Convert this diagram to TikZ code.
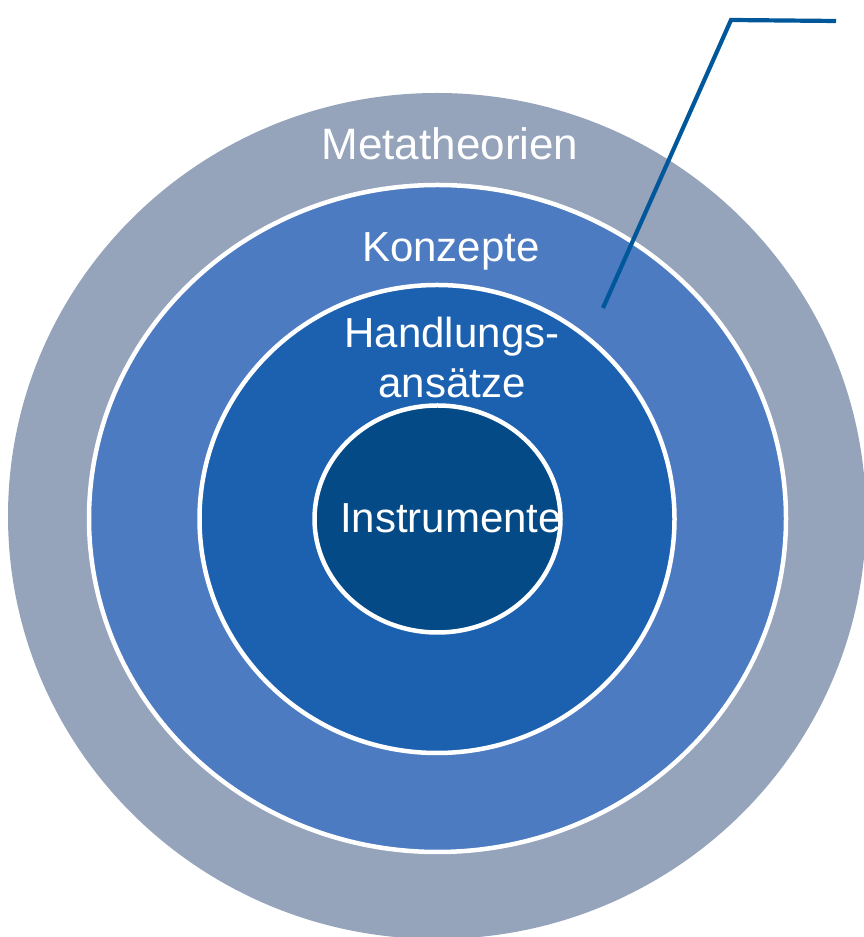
\documentclass[tikz,border=0pt]{standalone}
\usepackage{fontspec}
\setmainfont{Liberation Sans}
\usetikzlibrary{shapes.geometric}
\definecolor{outerc}{HTML}{95A3BB}
\definecolor{konzc}{HTML}{4C7BC1}
\definecolor{handc}{HTML}{1C61B0}
\definecolor{instc}{HTML}{044A87}
\definecolor{linec}{HTML}{00579A}
\tikzset{
  ring/.style={ellipse, inner sep=0pt, draw=white, line width=4.5pt},
  lbl/.style={text=white, font=\fontsize{42}{50}\selectfont, anchor=base, inner sep=0pt, align=center},
  leader/.style={draw=linec, line width=4.2pt}
}
\begin{document}
\begin{tikzpicture}[x=1pt,y=1pt]
\useasboundingbox (0,0) rectangle (864,937);
\clip (0,0) rectangle (864,937);
\node[ellipse, inner sep=0pt, fill=outerc, minimum width=858pt, minimum height=846pt] (meta) at (437,421) {};
\node[ring, fill=konzc, minimum width=697pt, minimum height=667pt] (konz) at (437.5,418.5) {};
\node[ring, fill=handc, minimum width=475pt, minimum height=468pt] (hand) at (437,418) {};
\node[ring, fill=instc, minimum width=246pt, minimum height=227pt] (inst) at (437.5,418) {};
\node[lbl, font=\fontsize{44}{50}\selectfont] (tmeta) at (450,777) {Metatheorien};
\node[lbl] (tkonz) at (451,675) {Konzepte};
\node[lbl] (thand) at (452,589) {Handlungs-};
\node[lbl] (tans) at (452,539) {ansätze};
\node[lbl] (tinst) at (451,404) {Instrumente};
\coordinate (tip) at (603,629);
\coordinate (knee) at (731,917);
\coordinate (free) at (836,916);
\draw[leader] (tip) -- (knee) -- (free);
\end{tikzpicture}
\end{document}
